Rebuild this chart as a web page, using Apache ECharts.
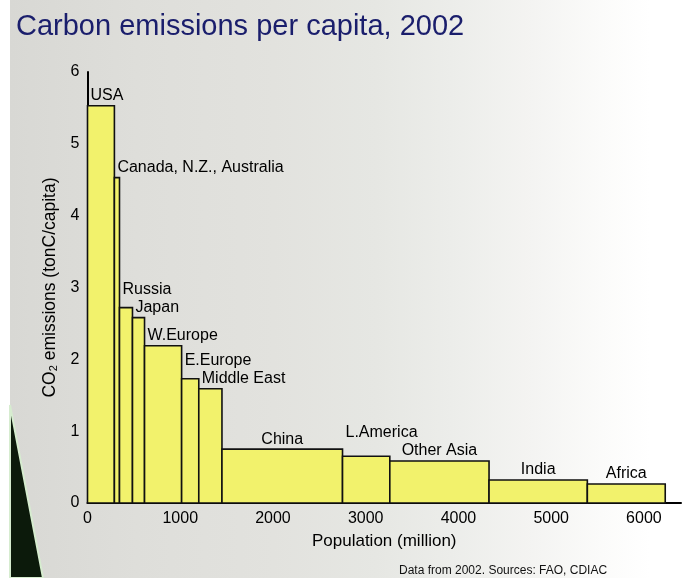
<!DOCTYPE html>
<html>
<head>
<meta charset="utf-8">
<script src="https://cdn.jsdelivr.net/npm/echarts@6/dist/echarts.min.js"></script>
<style>
  html, body { margin: 0; padding: 0; }
  #chart {
    width: 684px; height: 578px;
    background: linear-gradient(90deg, #ffffff 0px, #ffffff 10px, #d8d8d4 10px, #dededa 20%, #e2e2de 40%, #e6e7e3 55%, #ecedea 66%, #f4f4f2 78%, #fbfbfa 88%, #ffffff 95%);
  }
</style>
</head>
<body>
<div id="chart"></div>
<script>
// ---- data ----
const regions = ['USA', 'Canada, N.Z., Australia', 'Russia', 'Japan', 'W.Europe', 'E.Europe',
  'Middle East', 'China', 'L.America', 'Other Asia', 'India', 'Africa'];
const population = [290, 55, 140, 130, 400, 185, 250, 1300, 510, 1070, 1060, 840];   // million
const emissions = [5.53, 4.53, 2.72, 2.58, 2.19, 1.73, 1.59, 0.75, 0.65, 0.585, 0.32, 0.265]; // tonC/capita
const xTicks = [0, 1000, 2000, 3000, 4000, 5000, 6000];
const yTicks = [0, 1, 2, 3, 4, 5, 6];

// cumulative population starts (derived)
const starts = [];
let acc = 0;
population.forEach(p => { starts.push(acc); acc += p; });

const FONT = '"Liberation Sans", Arial, sans-serif';
const LABEL_SIZE = 16;
const measure = document.createElement('canvas').getContext('2d');
measure.font = LABEL_SIZE + 'px "Liberation Sans", Arial';

function labelLayout(api) {
  const boxes = regions.map((name, i) => {
    const p0 = api.coord([starts[i], emissions[i]]);
    const p1 = api.coord([starts[i] + population[i], 0]);
    const w = measure.measureText(name).width;
    const centered = (p1[0] - p0[0]) > 60;
    const x = centered ? (p0[0] + p1[0]) / 2 - w / 2 : p0[0] + 3;
    return { x: x, w: w, cy: p0[1] - 10 };
  });
  for (let i = boxes.length - 2; i >= 0; i--) {
    const b = boxes[i], n = boxes[i + 1];
    if (b.x + b.w > n.x && Math.abs(b.cy - n.cy) < 18) {
      b.cy = Math.min(b.cy, n.cy - 18);
    }
  }
  return boxes;
}

const chart = echarts.init(document.getElementById('chart'), null, { renderer: 'canvas' });

const option = {
  backgroundColor: 'transparent',
  animation: false,
  title: {
    text: 'Carbon emissions per capita, 2002',
    left: 11, top: 7,
    textStyle: { fontFamily: FONT, fontSize: 29, fontWeight: 'normal', color: '#1a1e6c' }
  },
  graphic: [
    {
      type: 'polygon', z: -10, silent: true,
      shape: { points: [[10, 405], [10, 578], [43, 578]] },
      style: { fill: '#0c1a0b', stroke: '#d6eccf', lineWidth: 2 }
    },
    {
      type: 'text', left: 399, top: 565,
      style: { text: 'Data from 2002. Sources: FAO, CDIAC', fontFamily: FONT, fontSize: 12, fill: '#111' }
    }
  ],
  grid: { left: 87.5, right: 2, top: 72, bottom: 75 },
  xAxis: {
    type: 'value', min: 0, max: 6400, interval: 1000,
    name: 'Population (million)', nameLocation: 'middle', nameGap: 30,
    nameTextStyle: { fontFamily: FONT, fontSize: 17, color: '#000' },
    axisLine: { show: true, lineStyle: { color: '#000', width: 2 } },
    axisTick: { show: false },
    splitLine: { show: false },
    axisLabel: {
      fontFamily: FONT, fontSize: 16, color: '#000', margin: 8,
      formatter: v => xTicks.indexOf(v) >= 0 ? String(v) : ''
    }
  },
  yAxis: {
    type: 'value', min: 0, max: 6, interval: 1,
    name: '{a|CO}{s|2}{a| emissions (tonC/capita)}', nameLocation: 'middle', nameGap: 27, nameRotate: 90,
    nameTextStyle: {
      rich: {
        a: { fontFamily: FONT, fontSize: 17.5, color: '#000' },
        s: { fontFamily: FONT, fontSize: 11, color: '#000', verticalAlign: 'bottom', padding: [9, 0, 0, 0] }
      }
    },
    axisLine: { show: true, lineStyle: { color: '#000', width: 2 } },
    axisTick: { show: false },
    splitLine: { show: false },
    axisLabel: {
      fontFamily: FONT, fontSize: 16, color: '#000', margin: 8,
      formatter: v => yTicks.indexOf(v) >= 0 ? String(v) : ''
    }
  },
  series: [{
    type: 'custom',
    data: regions.map((n, i) => [starts[i], starts[i] + population[i], emissions[i]]),
    encode: { x: [0, 1], y: 2 },
    renderItem: function (params, api) {
      const i = params.dataIndex;
      const p0 = api.coord([api.value(0), api.value(2)]);
      const p1 = api.coord([api.value(1), 0]);
      const boxes = labelLayout(api);
      const b = boxes[i];
      return {
        type: 'group',
        children: [
          {
            type: 'rect',
            shape: { x: p0[0], y: p0[1], width: p1[0] - p0[0], height: p1[1] - p0[1] },
            style: { fill: '#f2f26c', stroke: '#111', lineWidth: 1.6 }
          },
          {
            type: 'text',
            style: {
              text: regions[i], x: b.x, y: b.cy,
              textAlign: 'left', textVerticalAlign: 'middle',
              fontFamily: FONT, fontSize: LABEL_SIZE, fill: '#000'
            }
          }
        ]
      };
    }
  }]
};
chart.setOption(option);
</script>
</body>
</html>
